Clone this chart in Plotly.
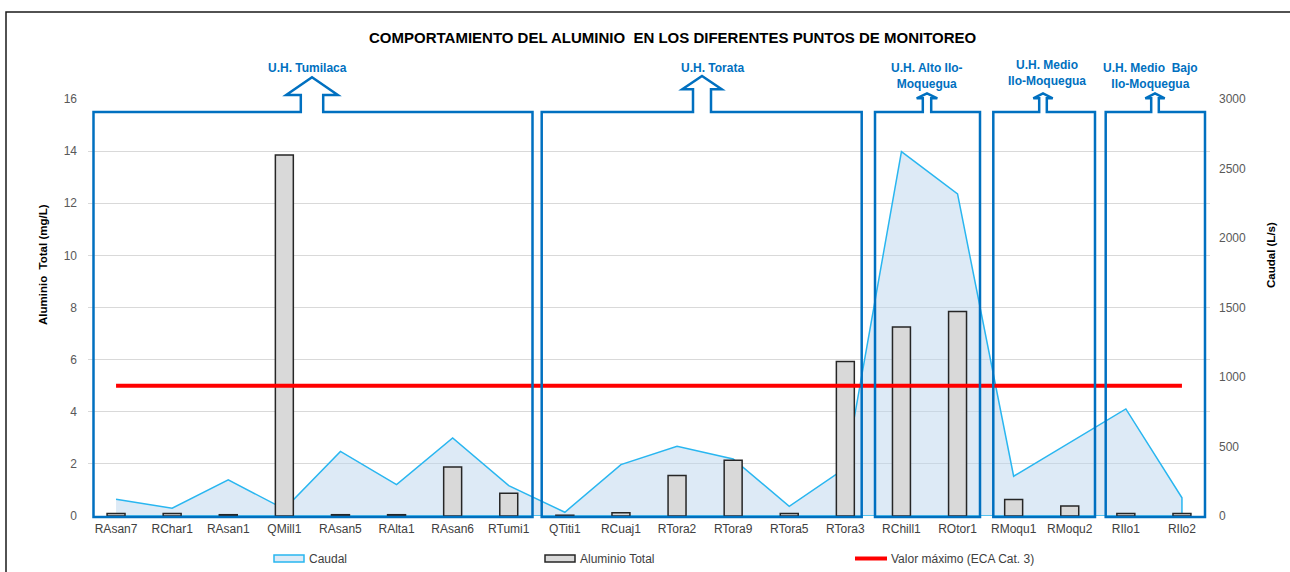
import plotly.graph_objects as go

# ---------------- data ----------------
categories = ["RAsan7", "RChar1", "RAsan1", "QMill1", "RAsan5", "RAlta1", "RAsan6", "RTumi1",
              "QTiti1", "RCuaj1", "RTora2", "RTora9", "RTora5", "RTora3",
              "RChill1", "ROtor1", "RMoqu1", "RMoqu2", "RIlo1", "RIlo2"]
aluminio_total = [0.10, 0.10, 0.05, 13.85, 0.05, 0.05, 1.88, 0.87,
                  0.03, 0.12, 1.55, 2.14, 0.10, 5.93,
                  7.25, 7.85, 0.63, 0.38, 0.10, 0.10]
caudal = [120, 56, 260, 50, 465, 226, 562, 219,
          27, 370, 501, 410, 70, 345,
          2621, 2317, 286, 526, 770, 131]
eca_cat3 = [5, 5, 5, 5, 5, 5, 5, 5, 5, 5, 5, 5, 5, 5, 5, 5, 5, 5, 5, 5]
left_ticks = [0, 2, 4, 6, 8, 10, 12, 14, 16]
right_ticks = [0, 500, 1000, 1500, 2000, 2500, 3000]
group_labels = ["U.H. Tumilaca", "U.H. Torata", "U.H. Alto Ilo-<br>Moquegua",
                "U.H. Medio<br>Ilo-Moquegua", "U.H. Medio  Bajo<br>Ilo-Moquegua"]

# ---------------- layout constants ----------------
W, H = 1290, 572
ML, MR, MT, MB = 88, 80, 99, 56
PW, PH = W - ML - MR, H - MT - MB
FONT = "Liberation Sans, Arial, sans-serif"
BLUE = "#0070C0"
CYAN = "#29B6F0"
AREA_FILL = "rgba(187,213,237,0.5)"


def px(x):
    return (x - ML) / PW


def py(y):
    return (H - MB - y) / PH


fig = go.Figure()

# Caudal area (right axis, drawn first -> behind)
fig.add_trace(go.Scatter(
    x=categories + [categories[-1], categories[0]],
    y=caudal + [0, 0],
    mode="lines", fill="toself", fillcolor=AREA_FILL,
    line=dict(color=CYAN, width=1.5),
    yaxis="y", name="Caudal", showlegend=False,
))
# Aluminio bars (left axis)
fig.add_trace(go.Bar(
    x=categories, y=aluminio_total, yaxis="y2", width=0.32,
    marker=dict(color="#D9D9D9", line=dict(color="#262626", width=1.5)),
    name="Aluminio Total", showlegend=False,
))
# ECA limit
fig.add_trace(go.Scatter(
    x=categories, y=eca_cat3, yaxis="y2", mode="lines",
    line=dict(color="#FF0000", width=4),
    name="Valor máximo (ECA Cat. 3)", showlegend=False,
))

shapes = []
# outer chart border
shapes.append(dict(type="rect", xref="paper", yref="paper",
                   x0=px(6), x1=px(1300), y0=py(12), y1=py(600),
                   line=dict(color="#1a1a1a", width=1.5), fillcolor="rgba(0,0,0,0)",
                   layer="above"))

# group callout boxes: left, right, arrow centre, head half width, shaft half width, tip y, head base y
boxes = [
    (93.5, 532.5, 312.0, 25.8, 11.2, 77.3, 95.0),
    (541.7, 861.7, 702.0, 19.7, 9.0, 76.0, 89.3),
    (875.0, 980.0, 927.0, 10.3, 4.2, 93.3, 98.3),
    (993.3, 1095.0, 1043.0, 9.7, 3.8, 93.3, 98.3),
    (1105.7, 1205.0, 1155.0, 9.7, 3.8, 93.3, 98.3),
]
BOX_TOP, BOX_BOTTOM = 112.0, 517.0
for (l, r, c, hh, sh, tip, hb) in boxes:
    pts = [(l, BOX_BOTTOM), (l, BOX_TOP), (c - sh, BOX_TOP), (c - sh, hb), (c - hh, hb),
           (c, tip), (c + hh, hb), (c + sh, hb), (c + sh, BOX_TOP), (r, BOX_TOP), (r, BOX_BOTTOM)]
    path = "M " + " L ".join(f"{px(a):.5f},{py(b):.5f}" for a, b in pts) + " Z"
    shapes.append(dict(type="path", xref="paper", yref="paper", path=path,
                       line=dict(color=BLUE, width=2.5), fillcolor="rgba(0,0,0,0)",
                       layer="above"))

# custom legend
shapes.append(dict(type="rect", xref="paper", yref="paper",
                   x0=px(274), x1=px(304), y0=py(562), y1=py(555),
                   fillcolor="rgb(221,234,246)", line=dict(color=CYAN, width=1.5)))
shapes.append(dict(type="rect", xref="paper", yref="paper",
                   x0=px(545), x1=px(575), y0=py(562), y1=py(555),
                   fillcolor="#D9D9D9", line=dict(color="#262626", width=1.5)))
shapes.append(dict(type="line", xref="paper", yref="paper",
                   x0=px(855), x1=px(887), y0=py(558.5), y1=py(558.5),
                   line=dict(color="#FF0000", width=4)))

annotations = []
annotations.append(dict(text="<b>COMPORTAMIENTO DEL ALUMINIO  EN LOS DIFERENTES PUNTOS DE MONITOREO</b>",
                        xref="paper", yref="paper", x=px(673), y=py(37), showarrow=False,
                        xanchor="center", yanchor="middle",
                        font=dict(family=FONT, size=15, color="#000000")))
label_pos = [(307, 67.5), (712, 67.5), (927, 76.2), (1047, 73.3), (1150, 76.2)]
for txt, (lx, ly) in zip(group_labels, label_pos):
    annotations.append(dict(text=f"<b>{txt}</b>", xref="paper", yref="paper",
                            x=px(lx), y=py(ly), showarrow=False, xanchor="center",
                            yanchor="middle", align="center",
                            font=dict(family=FONT, size=12, color=BLUE)))
annotations.append(dict(text="<b>Aluminio  Total (mg/L)</b>", xref="paper", yref="paper",
                        x=px(43), y=py(265), showarrow=False, textangle=-90,
                        xanchor="center", yanchor="middle",
                        font=dict(family=FONT, size=11.5, color="#000000")))
annotations.append(dict(text="<b>Caudal (L/s)</b>", xref="paper", yref="paper",
                        x=px(1271), y=py(255), showarrow=False, textangle=-90,
                        xanchor="center", yanchor="middle",
                        font=dict(family=FONT, size=11.5, color="#000000")))
for txt, lx in [("Caudal", 307), ("Aluminio Total", 578), ("Valor máximo (ECA Cat. 3)", 889)]:
    annotations.append(dict(text=txt, xref="paper", yref="paper", x=px(lx), y=py(558.5),
                            showarrow=False, xanchor="left", yanchor="middle",
                            font=dict(family=FONT, size=12, color="#404040")))

fig.update_layout(
    width=W, height=H,
    margin=dict(l=ML, r=MR, t=MT, b=MB, autoexpand=False),
    paper_bgcolor="white", plot_bgcolor="white",
    showlegend=False,
    font=dict(family=FONT, size=12, color="#595959"),
    xaxis=dict(type="category", categoryorder="array", categoryarray=categories,
               range=[-0.5, len(categories) - 0.5], showgrid=False, showline=False,
               zeroline=False, ticks="", tickfont=dict(size=12, color="#404040"),
               ticklabelstandoff=4),
    yaxis=dict(side="right", range=[0, 3000], tickvals=right_ticks, showgrid=False,
               zeroline=False, showline=False, ticks="", ticklabelstandoff=8,
               tickfont=dict(size=12, color="#595959")),
    yaxis2=dict(side="left", overlaying="y", range=[0, 16], tickvals=left_ticks,
                showgrid=True, gridcolor="#D9D9D9", gridwidth=1, zeroline=False,
                showline=False, ticks="", ticklabelstandoff=10,
                tickfont=dict(size=12, color="#595959")),
    bargap=0.68,
    shapes=shapes,
    annotations=annotations,
)

fig.write_html("out.html",
               config={"displayModeBar": False},
               post_script="document.body.style.margin='0';document.body.style.overflow='hidden';")
